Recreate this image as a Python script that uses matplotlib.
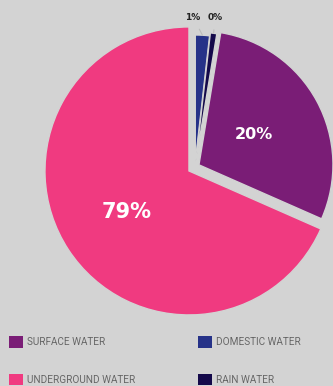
import numpy as np
import matplotlib.pyplot as plt
from matplotlib.patches import Patch

# slice data (pie drawn clockwise from 12 o'clock)
names = ['DOMESTIC WATER', 'RAIN WATER', 'SURFACE WATER', 'UNDERGROUND WATER']
shares = [1.8, 0.8, 29.0, 68.4]
pct_labels = ['1%', '0%', '20%', '79%']
colors = ['#263288', '#14094a', '#7a1d76', '#f03a80']

bg = '#d3d3d3'
W, H = 333, 386
cx, cy = 195, H - 167
radii = [127, 130, 134, 144]
offsets = [5, 5, 4.5, 7.2]

fig = plt.figure(figsize=(W / 100, H / 100), dpi=100)
fig.patch.set_facecolor(bg)
ax = fig.add_axes([0, 0, 1, 1])
ax.set_facecolor(bg)

wedges, _ = ax.pie(shares, colors=colors, startangle=90, counterclock=False,
                   center=(cx, cy), radius=max(radii), explode=offsets,
                   wedgeprops=dict(edgecolor=bg, linewidth=1.0))
for w, r in zip(wedges, radii):
    w.set_radius(r)

def point_on(w, frac):
    mid = np.deg2rad(0.5 * (w.theta1 + w.theta2))
    x0, y0 = w.center
    return x0 + frac * w.r * np.cos(mid), y0 + frac * w.r * np.sin(mid)

# labels inside the big slices
inside = {2: (0.47, 11.5), 3: (0.52, 15)}
for i, (frac, size) in inside.items():
    x, y = point_on(wedges[i], frac)
    ax.text(x, y, pct_labels[i], ha='center', va='center', color='white',
            fontsize=size, fontweight='bold', family='DejaVu Sans')

# small slices get outside labels with connectors
outside_pos = {0: (193, H - 17), 1: (215, H - 17)}
for i, (tx, ty) in outside_pos.items():
    ax.annotate(pct_labels[i], xy=point_on(wedges[i], 1.0), xytext=(tx, ty),
                ha='center', va='center', fontsize=6.5, fontweight='bold',
                family='DejaVu Sans', color='#222222',
                arrowprops=dict(arrowstyle='-', color='#bcbcbc', lw=0.8,
                                shrinkA=4, shrinkB=0))

ax.set_xlim(0, W)
ax.set_ylim(0, H)
ax.set_aspect('auto')
ax.axis('off')

# legend, two columns
order = [2, 3, 0, 1]
handles = [Patch(facecolor=colors[i], edgecolor='none') for i in order]
fig.legend(handles, [names[i] for i in order], ncol=2, loc='upper left',
           bbox_to_anchor=(9 / W, 1 - 336 / H), frameon=False,
           prop=dict(family='Roboto', size=7.2), labelcolor='#666666',
           handlelength=1.4, handleheight=1.4, handletextpad=0.4,
           labelspacing=2.6, columnspacing=6.3, borderpad=0, borderaxespad=0)

fig.savefig('out.png', dpi=100, facecolor=bg)
